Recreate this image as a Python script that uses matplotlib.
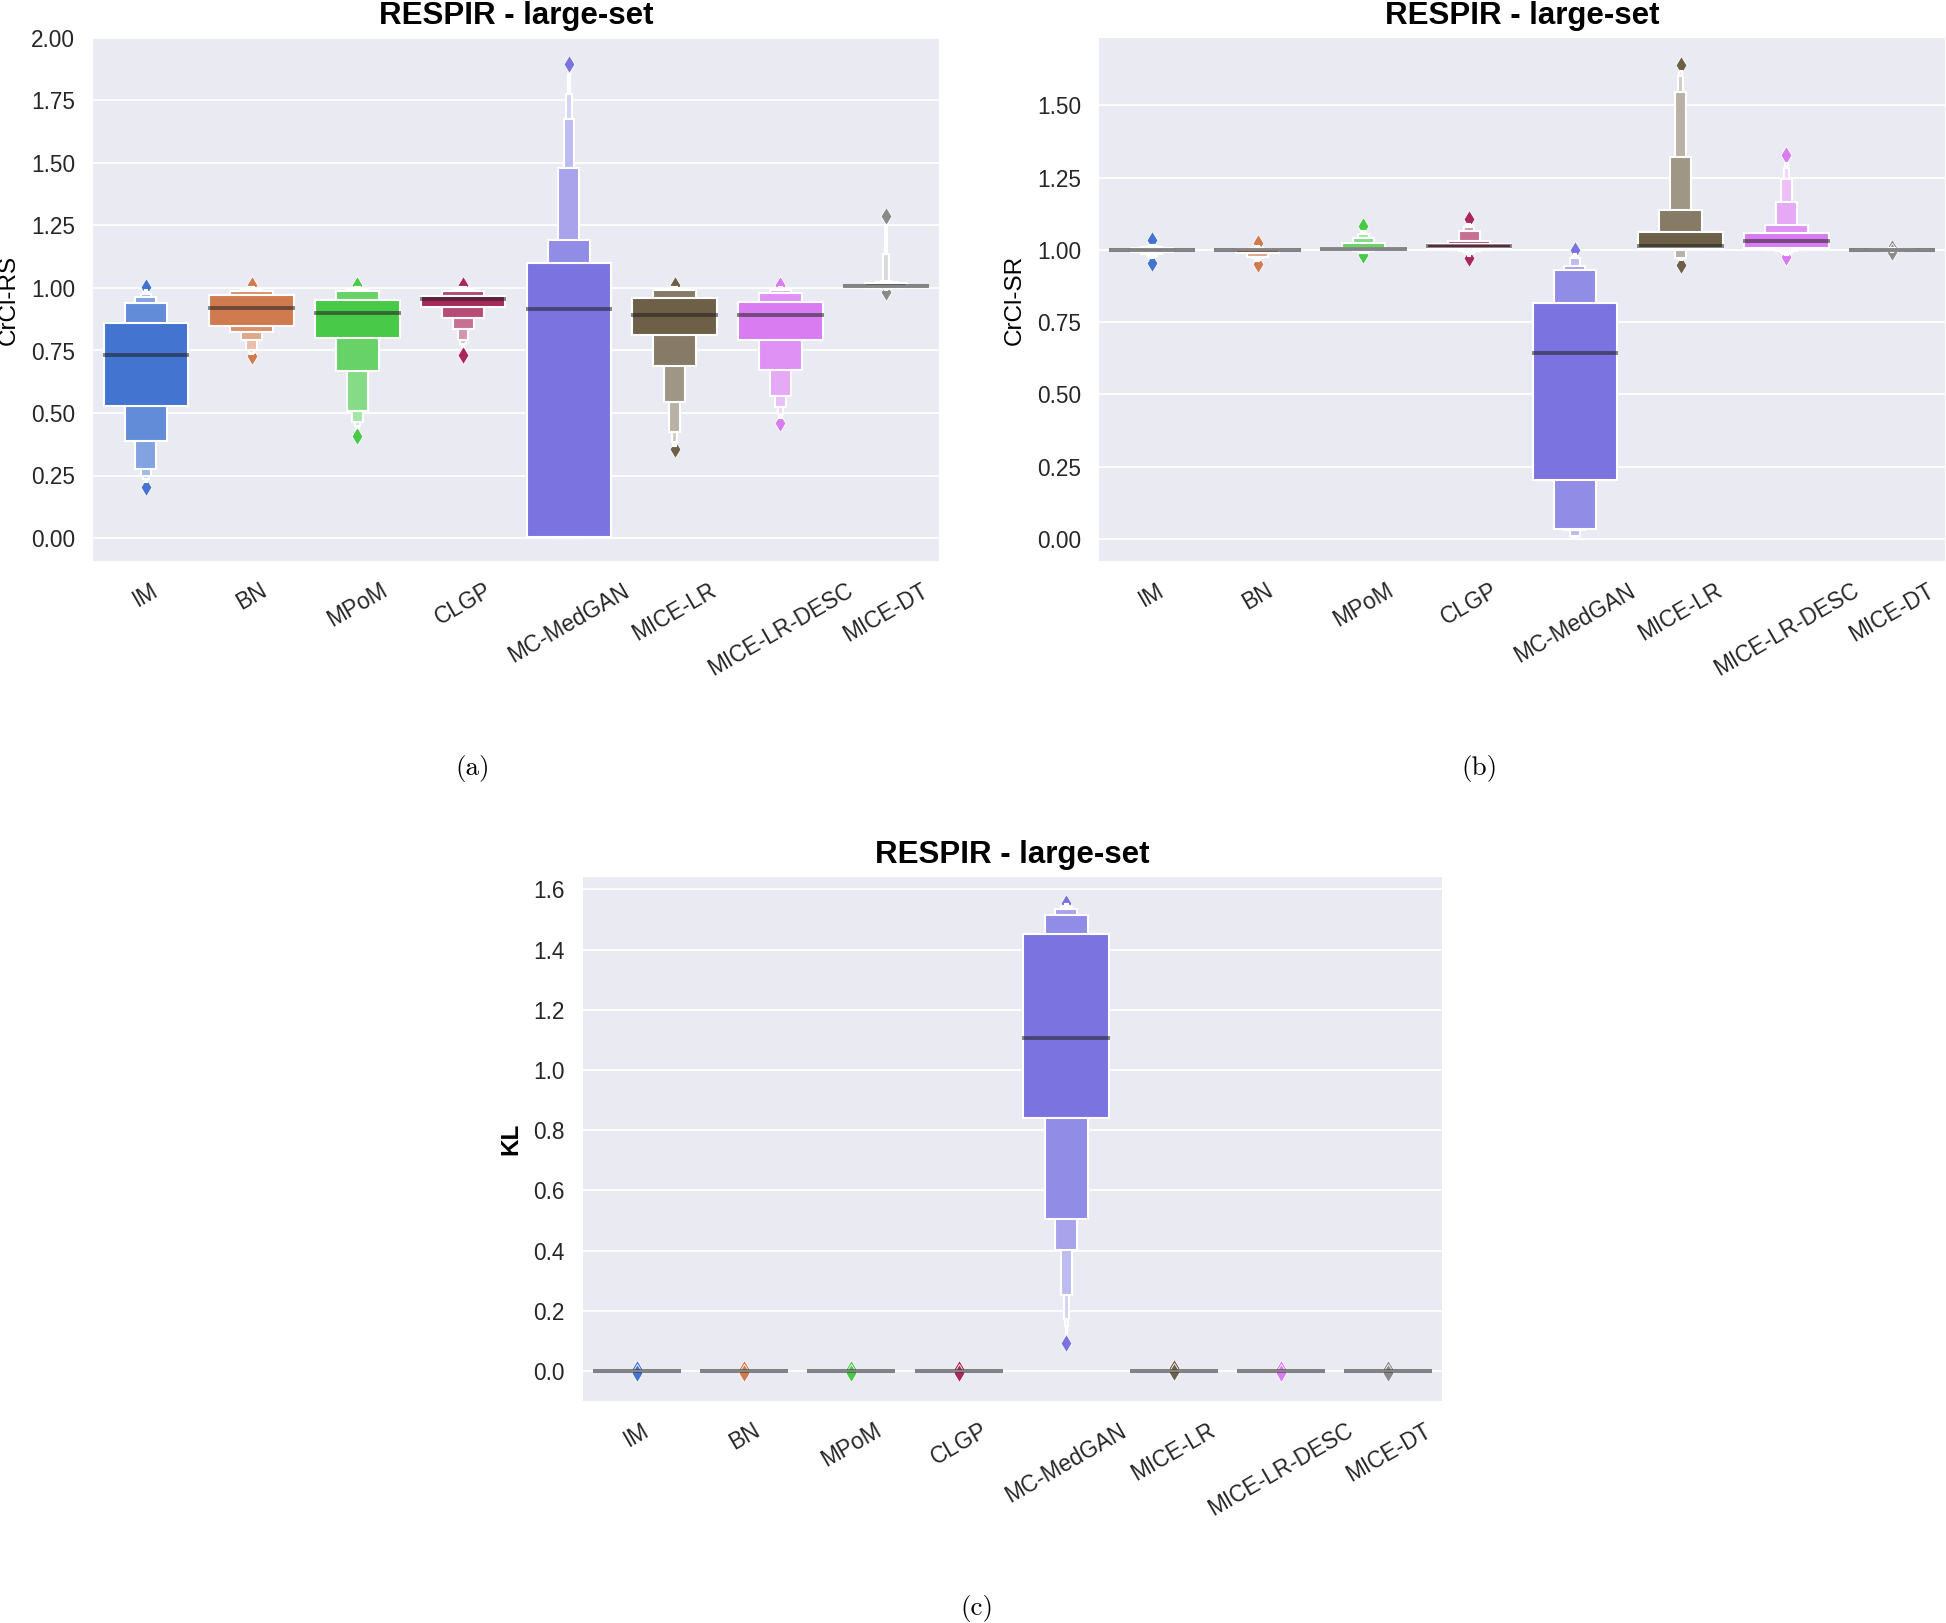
import numpy as np
import matplotlib
matplotlib.use("Agg")
import matplotlib.pyplot as plt
import matplotlib.colors as mcolors
from matplotlib.patches import Rectangle

plt.rcParams["font.family"] = ["Liberation Sans", "DejaVu Sans"]

categories = ["IM", "BN", "MPoM", "CLGP", "MC-MedGAN", "MICE-LR", "MICE-LR-DESC", "MICE-DT"]
colors = ["#4374d0", "#d07a50", "#48c948", "#a8285a", "#7b74e0", "#6e6048", "#d97cf2", "#8a8a8a"]

# letter values: level 1 = quartiles, then eighths, ...
rs_median = [0.730, 0.919, 0.901, 0.956, 0.917, 0.890, 0.893, 1.007]
rs_lower = [
    [0.530, 0.389, 0.278, 0.250, 0.235, 0.225],
    [0.850, 0.823, 0.791, 0.752, 0.740, 0.735],
    [0.800, 0.667, 0.509, 0.465, 0.447, 0.440],
    [0.924, 0.880, 0.836, 0.794, 0.775, 0.765],
    [0.003, 0.002, 0.001, 0.000, 0.000, 0.000],
    [0.812, 0.690, 0.546, 0.424, 0.385, 0.370],
    [0.791, 0.671, 0.568, 0.523, 0.495, 0.480],
    [1.004, 1.002, 1.000, 0.998, 0.995, 0.992],
]
rs_upper = [
    [0.862, 0.939, 0.963, 0.975, 0.985, 0.990],
    [0.972, 0.990, 0.995, 1.000, 1.003, 1.005],
    [0.952, 0.990, 0.995, 1.000, 1.003, 1.005],
    [0.970, 0.988, 0.995, 1.000, 1.003, 1.005],
    [1.099, 1.190, 1.479, 1.677, 1.777, 1.857],
    [0.959, 0.990, 0.995, 1.000, 1.003, 1.005],
    [0.945, 0.981, 0.990, 0.995, 1.000, 1.003],
    [1.010, 1.022, 1.025, 1.030, 1.135, 1.250],
]
rs_min = [0.206, 0.726, 0.410, 0.732, np.nan, 0.355, 0.461, 0.983]
rs_max = [1.005, 1.012, 1.012, 1.012, 1.895, 1.012, 1.011, 1.286]

sr_median = [1.000, 1.000, 1.003, 1.013, 0.643, 1.014, 1.030, 1.000]
sr_lower = [
    [0.998, 0.993, 0.985, 0.980, 0.975, 0.970],
    [0.998, 0.988, 0.975, 0.970, 0.965, 0.960],
    [1.000, 0.998, 0.995, 0.992, 0.990, 0.988],
    [1.005, 1.000, 0.995, 0.990, 0.985, 0.980],
    [0.202, 0.035, 0.030, 0.008, 0.006, 0.005],
    [1.007, 1.003, 0.998, 0.971, 0.968, 0.965],
    [1.006, 1.000, 0.995, 0.990, 0.985, 0.982],
    [0.999, 0.998, 0.997, 0.996, 0.995, 0.994],
]
sr_upper = [
    [1.001, 1.006, 1.010, 1.013, 1.016, 1.018],
    [1.001, 1.002, 1.004, 1.006, 1.010, 1.013],
    [1.007, 1.025, 1.040, 1.055, 1.060, 1.065],
    [1.020, 1.030, 1.064, 1.079, 1.085, 1.090],
    [0.817, 0.929, 0.945, 0.973, 0.980, 0.985],
    [1.060, 1.137, 1.321, 1.546, 1.601, 1.620],
    [1.058, 1.087, 1.165, 1.246, 1.284, 1.300],
    [1.001, 1.002, 1.003, 1.004, 1.005, 1.006],
]
sr_min = [0.955, 0.950, 0.983, 0.971, np.nan, 0.948, 0.975, 0.993]
sr_max = [1.035, 1.023, 1.081, 1.105, 1.000, 1.641, 1.327, 1.007]

kl_median = [0.0, 0.0, 0.0, 0.0, 1.105, 0.0, 0.0, 0.0]
kl_lower = [
    [0.0] * 6, [0.0] * 6, [0.0] * 6, [0.0] * 6,
    [0.839, 0.504, 0.401, 0.251, 0.172, 0.150],
    [0.0] * 6, [0.0] * 6, [0.0] * 6,
]
kl_upper = [
    [0.0] * 6, [0.0] * 6, [0.0] * 6, [0.0] * 6,
    [1.451, 1.514, 1.534, 1.540, 1.545, 1.550],
    [0.0] * 6, [0.0] * 6, [0.0] * 6,
]
kl_min = [-0.006, -0.006, -0.006, -0.006, 0.094, -0.004, -0.006, -0.006]
kl_max = [0.006, 0.006, 0.006, 0.006, 1.556, 0.010, 0.006, 0.006]


def boxen(ax, pos, lower, upper, med, lo_out, hi_out, color):
    n = len(lower)
    base = np.array(mcolors.to_rgb(color))
    # outliers: white stack of diamonds ending in a coloured tip
    for end, out in ((upper[-1], hi_out), (lower[-1], lo_out)):
        if np.isnan(out):
            continue
        ax.plot([pos, pos], [end, out], color="white", lw=2.4, zorder=1.1)
        ax.scatter([pos], [out], marker="d", s=85, color=color,
                   edgecolors="white", linewidths=0.6, zorder=1.2)
    # narrowest box first, widest (full colour) last
    for i in range(n - 1, -1, -1):
        w = 0.8 * 0.5 ** i
        shade = base + 0.85 * i / (n - 1) * (1 - base)
        ax.add_patch(Rectangle((pos - w / 2, lower[i]), w, upper[i] - lower[i],
                               facecolor=shade, edgecolor="white",
                               linewidth=1.5, zorder=1.5))
    ax.plot([pos - 0.41, pos + 0.41], [med, med], color=".12", alpha=.55,
            lw=2.8, solid_capstyle="butt", zorder=2)


def panel(ax, med, lower, upper, mins, maxs, ylabel, ylim, ticks, fmt, bold_label=False):
    ax.set_facecolor("#EAEAF2")
    for s in ax.spines.values():
        s.set_visible(False)
    ax.yaxis.grid(True, color="white", lw=1.3)
    ax.set_axisbelow(True)
    for i, c in enumerate(categories):
        boxen(ax, i, lower[i], upper[i], med[i], mins[i], maxs[i], colors[i])
    ax.set_xlim(-0.5, len(categories) - 0.5)
    ax.set_ylim(*ylim)
    ax.set_yticks(ticks)
    ax.set_yticklabels([fmt % t for t in ticks])
    ax.set_xticks(range(len(categories)))
    ax.set_xticklabels(categories, rotation=30)
    ax.tick_params(length=0, pad=13, labelsize=16.3, colors="#262626")
    ax.set_ylabel(ylabel, fontsize=17.5, labelpad=8,
                  fontweight="bold" if bold_label else "normal")
    ax.set_title("RESPIR - large-set", fontsize=22.5, fontweight="bold", pad=10)


W, H = 1946, 1623
fig = plt.figure(figsize=(W / 100, H / 100), dpi=100)


def axes_px(x0, y0, x1, y1):
    return fig.add_axes([x0 / W, 1 - y1 / H, (x1 - x0) / W, (y1 - y0) / H])


ax_a = axes_px(93, 38, 939, 561)
ax_b = axes_px(1099, 38, 1945, 561)
ax_c = axes_px(583, 877, 1442, 1401)

panel(ax_a, rs_median, rs_lower, rs_upper, rs_min, rs_max, "CrCl-RS",
      (-0.092, 1.997), np.arange(0, 2.01, 0.25), "%.2f")
panel(ax_b, sr_median, sr_lower, sr_upper, sr_min, sr_max, "CrCl-SR",
      (-0.077, 1.733), np.arange(0, 1.51, 0.25), "%.2f")
panel(ax_c, kl_median, kl_lower, kl_upper, kl_min, kl_max, "KL",
      (-0.10, 1.641), np.arange(0, 1.61, 0.2), "%.1f", bold_label=True)

for label, x, y in (("(a)", 473, 769), ("(b)", 1479, 769), ("(c)", 977, 1608)):
    fig.text(x / W, 1 - y / H, label, ha="center", va="center",
             fontsize=19.5, family="cmr10")

fig.savefig("out.png", dpi=100, facecolor="white")
